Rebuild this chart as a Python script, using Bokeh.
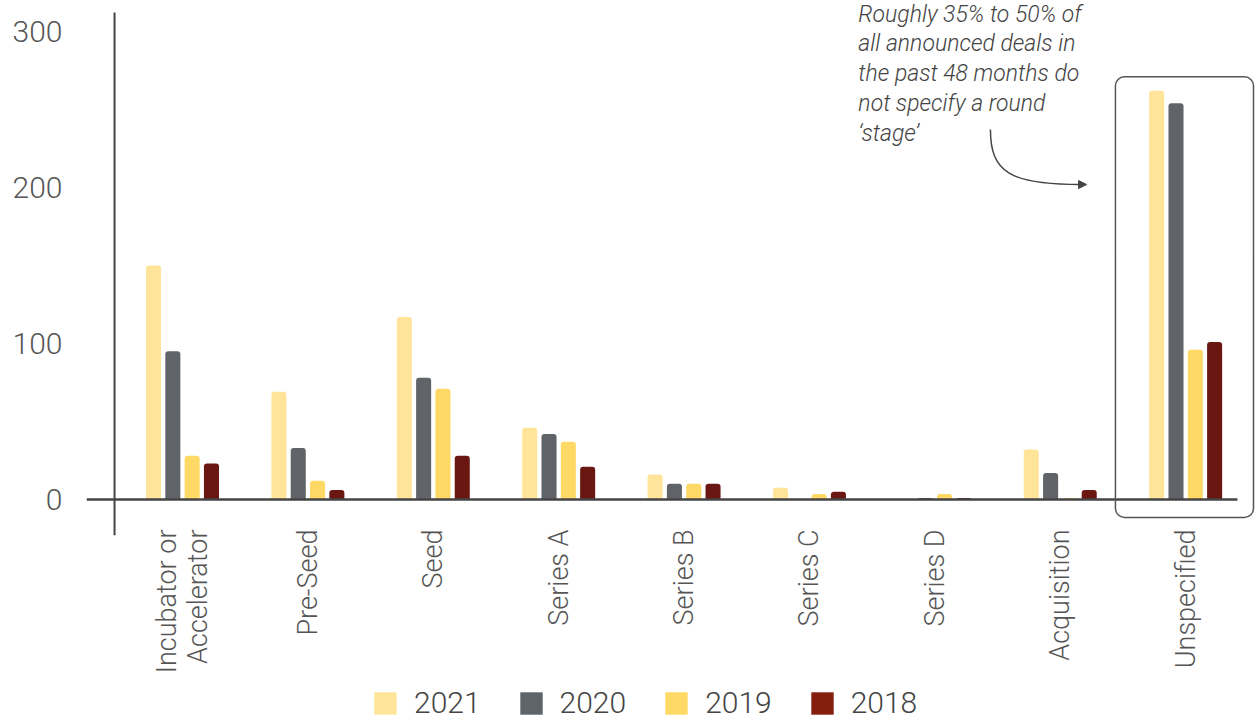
import numpy as np
from bokeh.plotting import figure
from bokeh.layouts import column
from bokeh.models import (Range1d, FixedTicker, Legend, LegendItem, Arrow,
                          NormalHead, ColumnDataSource)
from bokeh.transform import dodge
from bokeh.core.properties import value
from bokeh.embed import file_html
from bokeh.resources import INLINE

# ---------------- data ----------------
categories = ["Incubator or\nAccelerator", "Pre-Seed", "Seed", "Series A",
              "Series B", "Series C", "Series D", "Acquisition", "Unspecified"]
years = ["2021", "2020", "2019", "2018"]
v2021 = [150, 69, 117, 46, 16, 7.5, 0, 32, 262]
v2020 = [95, 33, 78, 42, 10, 0, 1, 17, 254]
v2019 = [28, 12, 71, 37, 10, 3.5, 3.5, 1, 96]
v2018 = [23, 6, 28, 21, 10, 5, 1, 6, 101]
y_ticks = [0, 100, 200, 300]
annotation = ("Roughly 35% to 50% of\nall announced deals in\n"
              "the past 48 months do\nnot specify a round\n\u2018stage\u2019")

bar_colors = {"2021": "#FFE499", "2020": "#606468", "2019": "#FFD966", "2018": "#6A1712"}
legend_colors = {"2021": "#FFE59A", "2020": "#5F6468", "2019": "#FFD966", "2018": "#841F0D"}

FONT = "Roboto Light"
TXT = "#555555"

src = ColumnDataSource(dict(x=list(range(len(categories))), **{
    "2021": v2021, "2020": v2020, "2019": v2019, "2018": v2018}))

p = figure(width=1256, height=680,
           x_range=Range1d(-0.7656, 8.565), y_range=Range1d(-23.1, 319.9),
           output_backend="svg", toolbar_location=None,
           min_border_left=86, min_border_right=0, min_border_top=0,
           min_border_bottom=145)
p.grid.visible = False
p.outline_line_color = None
p.background_fill_color = "white"

# x axis
p.xaxis.ticker = FixedTicker(ticks=list(range(len(categories))))
p.xaxis.major_label_overrides = {i: c for i, c in enumerate(categories)}
p.xaxis.major_label_orientation = np.pi / 2
p.xaxis.axis_line_color = None
p.xaxis.major_tick_line_color = None
p.xaxis.minor_tick_line_color = None
p.xaxis.major_tick_out = 0
p.xaxis.major_label_standoff = -6
p.xaxis.major_label_text_font = FONT
p.xaxis.major_label_text_font_size = "27px"
p.xaxis.major_label_text_color = TXT
p.xaxis.major_label_text_line_height = 0.98

# y axis
p.yaxis.ticker = FixedTicker(ticks=y_ticks)
p.yaxis.axis_line_color = None
p.yaxis.major_tick_line_color = None
p.yaxis.minor_tick_line_color = None
p.yaxis.major_tick_out = 0
p.yaxis.major_label_standoff = 24
p.yaxis.major_label_text_font = FONT
p.yaxis.major_label_text_font_size = "30px"
p.yaxis.major_label_text_color = TXT

# bars
step = 0.154
width = 0.12
for k, yr in enumerate(years):
    off = (k - 1.5) * step
    p.vbar(x=dodge("x", off, range=p.x_range), top=yr, width=width, bottom=0,
           source=src, fill_color=bar_colors[yr], line_color=None,
           border_radius=(3, 3, 0, 0))

# axis lines
p.segment(x0=[-0.7656], y0=[0], x1=[8.413], y1=[0], line_color="#444444", line_width=2.5)
p.segment(x0=[-0.542], y0=[-23.1], x1=[-0.542], y1=[312.2], line_color="#444444", line_width=2)

# highlight box around "Unspecified"
ui = categories.index("Unspecified")
p.quad(left=[ui - 0.56], right=[ui + 0.541], top=[max(v2021[ui], v2020[ui]) + 9], bottom=[-11.5],
       fill_color=None, line_color="#555555", line_width=1.5, border_radius=9)

# annotation text and arrow
p.text(x=[5.39], y=[319.9], text=[annotation], text_font=value(FONT),
       text_font_style="italic", text_font_size="23px", text_color="#444444",
       text_baseline="top", text_align="left", text_line_height=1.11)
p.bezier(x0=[6.443], y0=[237.2], x1=[7.161], y1=[201.9],
         cx0=[6.443], cy0=[209.6], cx1=[6.603], cy1=[201.9],
         line_color="#444444", line_width=1.5)
p.add_layout(Arrow(end=NormalHead(size=8, fill_color="#444444", line_color="#444444"),
                   x_start=7.12, y_start=201.9, x_end=7.21, y_end=201.9,
                   line_color="#444444", line_width=1))

# ---------------- legend strip ----------------
lg = figure(width=1256, height=42, x_range=Range1d(0, 1), y_range=Range1d(0, 1),
            output_backend="svg", toolbar_location=None,
            x_axis_location=None, y_axis_location=None,
            min_border_left=0, min_border_right=0, min_border_top=0, min_border_bottom=0)
lg.grid.visible = False
lg.outline_line_color = None
items = []
for yr in years:
    # zero-height proxy bar: only its legend swatch is visible
    r = lg.vbar(x=[0.5], top=[0], bottom=[0], width=0.1,
                fill_color=legend_colors[yr], line_color=None)
    items.append(LegendItem(label=yr, renderers=[r]))
legend = Legend(items=items, orientation="horizontal", location=(285, 2),
                glyph_width=28, glyph_height=28, label_standoff=15, spacing=36,
                padding=0, margin=0, border_line_color=None, background_fill_alpha=0,
                label_text_font=FONT, label_text_font_size="30px", label_text_color="#444444")
lg.add_layout(legend, "center")

open("out.html", "w").write(file_html(column(p, lg), INLINE))
